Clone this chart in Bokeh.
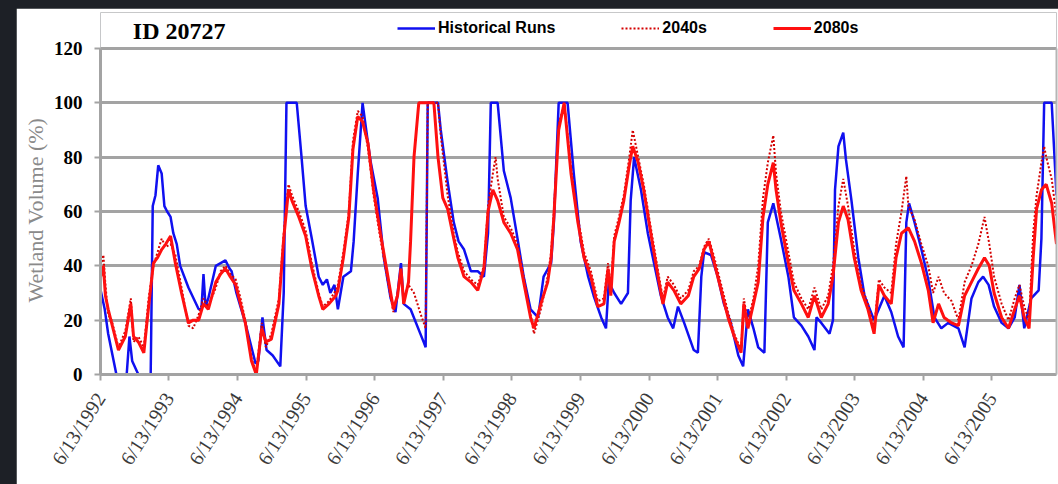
from datetime import date
from bokeh.plotting import figure
from bokeh.models import Range1d, FixedTicker, Legend, LegendItem, Label, LinearAxis, Title
from bokeh.layouts import column
from bokeh.embed import file_html
from bokeh.resources import INLINE

title_text = "ID 20727"
y_label = "Wetland Volume (%)"
series_names = ["Historical Runs", "2040s", "2080s"]
tick_labels = ["6/13/1992", "6/13/1993", "6/13/1994", "6/13/1995", "6/13/1996",
               "6/13/1997", "6/13/1998", "6/13/1999", "6/13/2000", "6/13/2001",
               "6/13/2002", "6/13/2003", "6/13/2004", "6/13/2005"]
y_ticks = [0, 20, 40, 60, 80, 100, 120]

# decimal years / wetland volume (%)
hist_t = [1992.45, 1992.51, 1992.56, 1992.68, 1992.83, 1992.87, 1992.91, 1993.00, 1993.18, 1993.21,
          1993.25, 1993.29, 1993.34, 1993.38, 1993.42, 1993.47, 1993.51, 1993.56, 1993.61, 1993.73,
          1993.88, 1993.92, 1993.95, 1993.98, 1994.02, 1994.13, 1994.20, 1994.27, 1994.33, 1994.36,
          1994.43, 1994.56, 1994.67, 1994.71, 1994.75, 1994.81, 1994.87, 1994.96, 1995.07, 1995.12,
          1995.16, 1995.31, 1995.38, 1995.44, 1995.53, 1995.63, 1995.69, 1995.75, 1995.80, 1995.86,
          1995.91, 1995.99, 1996.10, 1996.14, 1996.20, 1996.27, 1996.35, 1996.39, 1996.49, 1996.58,
          1996.68, 1996.75, 1996.83, 1996.87, 1996.97, 1997.16, 1997.19, 1997.22, 1997.37, 1997.41,
          1997.51, 1997.60, 1997.67, 1997.75, 1997.85, 1997.95, 1998.04, 1998.10, 1998.14, 1998.24,
          1998.33, 1998.43, 1998.53, 1998.62, 1998.72, 1998.83, 1998.91, 1999.02, 1999.06, 1999.13,
          1999.26, 1999.35, 1999.45, 1999.56, 1999.64, 1999.75, 1999.82, 1999.86, 1999.94, 2000.04,
          2000.14, 2000.18, 2000.23, 2000.33, 2000.43, 2000.52, 2000.62, 2000.72, 2000.80, 2000.87,
          2000.96, 2001.10, 2001.16, 2001.21, 2001.25, 2001.35, 2001.45, 2001.54, 2001.64, 2001.75,
          2001.82, 2001.89, 2001.97, 2002.04, 2002.13, 2002.18, 2002.26, 2002.37, 2002.48, 2002.56,
          2002.67, 2002.77, 2002.86, 2002.89, 2002.96, 2003.08, 2003.13, 2003.16, 2003.21, 2003.28,
          2003.32, 2003.40, 2003.50, 2003.59, 2003.73, 2003.88, 2003.98, 2004.08, 2004.16, 2004.20,
          2004.24, 2004.32, 2004.42, 2004.52, 2004.61, 2004.71, 2004.81, 2004.96, 2005.05, 2005.15,
          2005.25, 2005.32, 2005.40, 2005.48, 2005.59, 2005.69, 2005.78, 2005.85, 2005.92, 2006.02,
          2006.13, 2006.17, 2006.21, 2006.32, 2006.39]
hist_v = [31, 24, 15, 0, 0, 14, 5, 0, 0, 62,
          66, 77, 74, 62, 60, 58, 52, 48, 40, 32,
          24, 24, 37, 25, 28, 40, 41, 42, 39, 38,
          30, 19, 8, 4, 5, 21, 9, 7, 3, 30,
          100, 100, 80, 62, 50, 36, 33, 35, 30, 33,
          24, 36, 38, 49, 74, 100, 85, 78, 65, 43,
          28, 23, 41, 26, 24, 12, 10, 100, 100, 90,
          71, 56, 49, 46, 38, 38, 36, 52, 100, 100,
          75, 65, 50, 36, 24, 21, 36, 41, 56, 100,
          100, 74, 49, 36, 29, 21, 17, 34, 30, 26,
          30, 64, 80, 68, 52, 41, 29, 21, 17, 25,
          19, 9, 8, 36, 45, 44, 36, 26, 19, 7,
          3, 24, 17, 10, 8, 56, 63, 50, 36, 21,
          18, 14, 9, 21, 19, 15, 20, 68, 84, 89,
          79, 64, 43, 29, 20, 29, 23, 14, 10, 56,
          63, 56, 46, 35, 21, 17, 19, 17, 10, 28,
          34, 36, 33, 25, 19, 17, 21, 33, 17, 28,
          31, 50, 100, 100, 66]

s2040_t = [1992.45, 1992.49, 1992.52, 1992.56, 1992.61, 1992.71, 1992.81, 1992.89, 1992.93, 1993.00,
           1993.08, 1993.15, 1993.22, 1993.28, 1993.34, 1993.40, 1993.47, 1993.54, 1993.63, 1993.73,
           1993.80, 1993.88, 1993.95, 1994.02, 1994.13, 1994.20, 1994.27, 1994.34, 1994.42, 1994.49,
           1994.56, 1994.65, 1994.72, 1994.80, 1994.86, 1994.94, 1995.05, 1995.12, 1995.19, 1995.24,
           1995.34, 1995.44, 1995.53, 1995.63, 1995.69, 1995.78, 1995.88, 1995.91, 1995.99, 1996.07,
           1996.13, 1996.20, 1996.27, 1996.35, 1996.43, 1996.53, 1996.64, 1996.72, 1996.78, 1996.83,
           1996.87, 1996.94, 1997.02, 1997.12, 1997.19, 1997.22, 1997.37, 1997.41, 1997.51, 1997.60,
           1997.66, 1997.75, 1997.85, 1997.95, 1998.04, 1998.10, 1998.17, 1998.21, 1998.24, 1998.33,
           1998.43, 1998.53, 1998.62, 1998.72, 1998.77, 1998.87, 1998.97, 1999.02, 1999.06, 1999.13,
           1999.21, 1999.31, 1999.41, 1999.50, 1999.60, 1999.70, 1999.79, 1999.85, 1999.89, 1999.94,
           2000.01, 2000.08, 2000.16, 2000.21, 2000.29, 2000.37, 2000.48, 2000.58, 2000.65, 2000.72,
           2000.81, 2000.91, 2001.02, 2001.10, 2001.18, 2001.25, 2001.32, 2001.40, 2001.50, 2001.60,
           2001.69, 2001.79, 2001.83, 2001.89, 2001.97, 2002.04, 2002.11, 2002.18, 2002.26, 2002.30,
           2002.37, 2002.48, 2002.56, 2002.67, 2002.77, 2002.86, 2002.96, 2003.06, 2003.13, 2003.21,
           2003.28, 2003.35, 2003.44, 2003.54, 2003.64, 2003.73, 2003.80, 2003.88, 2003.98, 2004.05,
           2004.13, 2004.20, 2004.23, 2004.32, 2004.42, 2004.52, 2004.59, 2004.67, 2004.75, 2004.86,
           2004.96, 2005.05, 2005.15, 2005.25, 2005.34, 2005.41, 2005.48, 2005.59, 2005.69, 2005.78,
           2005.85, 2005.92, 2005.99, 2006.05, 2006.10, 2006.17, 2006.21, 2006.24, 2006.32, 2006.39]
s2040_v = [40, 44, 33, 22, 20, 10, 16, 28, 12, 14,
           10, 28, 40, 45, 50, 47, 48, 44, 32, 18,
           17, 22, 28, 25, 32, 38, 40, 37, 35, 28,
           20, 6, 1, 19, 10, 15, 28, 52, 70, 66,
           60, 53, 41, 30, 25, 27, 31, 33, 45, 60,
           86, 97, 95, 83, 66, 50, 34, 23, 30, 37,
           28, 33, 30, 22, 17, 100, 100, 88, 66, 52,
           45, 38, 35, 33, 40, 62, 74, 80, 72, 58,
           54, 48, 36, 22, 15, 24, 36, 45, 60, 92,
           100, 76, 58, 45, 38, 27, 28, 41, 31, 51,
           58, 66, 80, 90, 80, 70, 53, 38, 28, 36,
           33, 28, 31, 38, 40, 47, 50, 43, 33, 23,
           15, 9, 28, 19, 28, 40, 65, 78, 88, 74,
           60, 45, 34, 28, 24, 32, 24, 29, 40, 62,
           72, 62, 46, 33, 26, 17, 35, 32, 30, 48,
           60, 73, 62, 57, 48, 40, 30, 36, 30, 27,
           20, 34, 40, 48, 58, 48, 36, 26, 20, 28,
           33, 25, 20, 52, 66, 78, 84, 80, 72, 58]

s2080_t = [1992.45, 1992.49, 1992.52, 1992.56, 1992.61, 1992.71, 1992.81, 1992.89, 1992.93, 1993.00,
           1993.08, 1993.15, 1993.22, 1993.28, 1993.34, 1993.40, 1993.47, 1993.54, 1993.63, 1993.73,
           1993.80, 1993.88, 1993.95, 1994.02, 1994.13, 1994.20, 1994.27, 1994.34, 1994.42, 1994.49,
           1994.56, 1994.65, 1994.72, 1994.80, 1994.86, 1994.94, 1995.05, 1995.12, 1995.19, 1995.24,
           1995.34, 1995.44, 1995.53, 1995.63, 1995.69, 1995.78, 1995.88, 1995.91, 1995.99, 1996.07,
           1996.13, 1996.20, 1996.27, 1996.35, 1996.43, 1996.53, 1996.64, 1996.72, 1996.78, 1996.83,
           1996.87, 1996.94, 1996.97, 1997.02, 1997.09, 1997.31, 1997.37, 1997.44, 1997.51, 1997.60,
           1997.66, 1997.75, 1997.85, 1997.95, 1998.04, 1998.10, 1998.17, 1998.24, 1998.33, 1998.43,
           1998.53, 1998.62, 1998.72, 1998.77, 1998.87, 1998.97, 1999.02, 1999.06, 1999.13, 1999.21,
           1999.31, 1999.41, 1999.50, 1999.60, 1999.70, 1999.79, 1999.85, 1999.89, 1999.94, 2000.01,
           2000.08, 2000.16, 2000.21, 2000.29, 2000.37, 2000.48, 2000.58, 2000.65, 2000.72, 2000.81,
           2000.91, 2001.02, 2001.10, 2001.18, 2001.25, 2001.32, 2001.40, 2001.50, 2001.60, 2001.69,
           2001.79, 2001.83, 2001.89, 2001.97, 2002.04, 2002.11, 2002.18, 2002.26, 2002.30, 2002.37,
           2002.48, 2002.56, 2002.67, 2002.77, 2002.86, 2002.96, 2003.06, 2003.13, 2003.21, 2003.28,
           2003.35, 2003.44, 2003.54, 2003.64, 2003.73, 2003.80, 2003.88, 2003.98, 2004.05, 2004.13,
           2004.23, 2004.32, 2004.42, 2004.52, 2004.59, 2004.67, 2004.75, 2004.86, 2004.96, 2005.05,
           2005.15, 2005.25, 2005.34, 2005.41, 2005.48, 2005.59, 2005.69, 2005.78, 2005.85, 2005.92,
           2005.99, 2006.05, 2006.10, 2006.17, 2006.24, 2006.32, 2006.39]
s2080_v = [36, 40, 29, 24, 19, 9, 14, 26, 14, 12,
           8, 25, 41, 43, 46, 48, 51, 41, 30, 19,
           20, 20, 26, 24, 34, 37, 39, 36, 33, 26,
           19, 5, 0, 17, 12, 13, 26, 50, 68, 64,
           58, 51, 39, 29, 24, 26, 29, 31, 43, 58,
           83, 95, 93, 85, 68, 52, 36, 24, 29, 39,
           26, 34, 49, 80, 100, 100, 80, 65, 61, 50,
           43, 36, 34, 31, 39, 60, 68, 64, 56, 52,
           46, 34, 21, 17, 26, 34, 43, 58, 90, 100,
           74, 56, 43, 36, 25, 26, 39, 29, 49, 56,
           64, 77, 84, 78, 68, 51, 36, 26, 34, 31,
           26, 29, 36, 39, 46, 49, 41, 31, 21, 14,
           8, 26, 17, 26, 34, 58, 70, 78, 68, 56,
           41, 31, 26, 21, 29, 21, 26, 36, 56, 62,
           57, 43, 31, 24, 15, 33, 29, 26, 43, 52,
           54, 49, 41, 31, 19, 26, 21, 19, 18, 29,
           34, 39, 43, 40, 30, 21, 17, 24, 29, 21,
           17, 43, 61, 68, 70, 63, 48]


def to_decimal_year(label):
    m, d, y = (int(s) for s in label.split("/"))
    dt = date(y, m, d)
    days = (date(y + 1, 1, 1) - date(y, 1, 1)).days
    return y + (dt.timetuple().tm_yday - 1) / days


tick_pos = [to_decimal_year(s) for s in tick_labels]

GRID = "#a3a3a3"
DARK = "#1d2026"
SERIF = "Liberation Serif"
Y_TOP = 133.25   # headroom above 120 for the title and legend

p = figure(width=1044, height=476, output_backend="svg", toolbar_location=None,
           x_range=Range1d(tick_pos[0], 2006.39), y_range=Range1d(0, Y_TOP),
           min_border_left=84, min_border_right=4, min_border_top=4, min_border_bottom=110,
           margin=(8, 0, 0, 16))
p.background_fill_color = "white"
p.border_fill_color = "white"
p.outline_line_color = None

# lines
r_hist = p.line(hist_t, hist_v, line_color="#1010f0", line_width=2.5)
r_2040 = p.line(s2040_t, s2040_v, line_color="#d40000", line_width=2, line_dash="2 2")
r_2080 = p.line(s2080_t, s2080_v, line_color="#ff1010", line_width=3)

# axes
p.xaxis.ticker = FixedTicker(ticks=tick_pos)
p.xaxis.major_label_overrides = {t: s for t, s in zip(tick_pos, tick_labels)}
p.xaxis.major_label_orientation = 1.0
p.xaxis.major_label_text_font = SERIF
p.xaxis.major_label_text_font_size = "20px"
p.xaxis.major_label_text_color = "#3a3a3a"
p.xaxis.minor_tick_line_color = None
p.xaxis.major_tick_in = 0
p.xaxis.major_tick_out = 6
p.xaxis.major_label_standoff = 14

p.yaxis.bounds = (0, 120)
p.yaxis.ticker = FixedTicker(ticks=y_ticks)
p.yaxis.minor_tick_line_color = None
p.yaxis.major_tick_in = 0
p.yaxis.major_tick_out = 6
p.yaxis.major_label_standoff = 12
p.yaxis.major_label_text_font = SERIF
p.yaxis.major_label_text_font_size = "19px"
p.yaxis.major_label_text_font_style = "bold"
p.yaxis.major_label_text_color = "black"

for ax in (p.xaxis, p.yaxis):
    ax.axis_line_color = GRID
    ax.axis_line_width = 3
    ax.major_tick_line_color = GRID
    ax.major_tick_line_width = 2

# y axis title, centred on the 0..120 part of the plot area
p.add_layout(Title(text=y_label, align="left", offset=72, text_font=SERIF,
                   text_font_size="22px", text_font_style="normal", text_color="#8a8a8a",
                   standoff=6), "left")

# right border of the plot area (0..120)
right_edge = LinearAxis(bounds=(0, 120), ticker=FixedTicker(ticks=[]), axis_line_color="#b5b5b5",
                        axis_line_width=2, major_tick_line_color=None, minor_tick_line_color=None,
                        major_label_text_font_size="0px", major_tick_out=0, major_tick_in=0,
                        major_label_standoff=0)
p.add_layout(right_edge, "right")

p.xgrid.grid_line_color = None
p.ygrid.grid_line_color = GRID
p.ygrid.grid_line_width = 3

p.add_layout(Label(x=1992.92, y=126.6, text=title_text, text_font=SERIF, text_font_size="24px",
                   text_font_style="bold", text_color="black", text_baseline="middle"))

legend = Legend(items=[LegendItem(label=series_names[0], renderers=[r_hist]),
                       LegendItem(label=series_names[1], renderers=[r_2040]),
                       LegendItem(label=series_names[2], renderers=[r_2080])],
                orientation="horizontal", location=(297, 336), spacing=66,
                glyph_width=38, glyph_height=20, label_standoff=3, padding=0, margin=0,
                border_line_alpha=0, background_fill_alpha=0,
                label_text_font="Liberation Sans", label_text_font_size="16px",
                label_text_font_style="bold", label_text_color="black")
p.add_layout(legend)

page = column(p, margin=0, spacing=0, styles={"background-color": DARK})

open("out.html", "w").write(file_html(page, INLINE))
